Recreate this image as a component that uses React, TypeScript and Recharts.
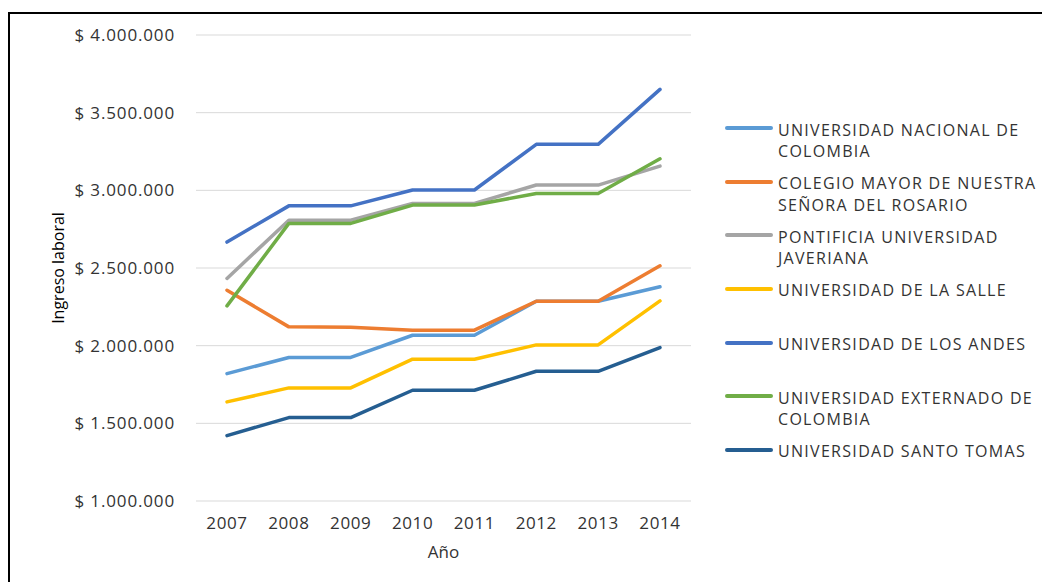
import React from 'react';
import { LineChart, Line, XAxis, YAxis, CartesianGrid, Legend } from 'recharts';

const years = ['2007', '2008', '2009', '2010', '2011', '2012', '2013', '2014'];

const nacional = [1820000, 1924000, 1924000, 2067000, 2067000, 2286000, 2286000, 2379000];
const rosario = [2357000, 2121000, 2119000, 2100000, 2100000, 2286000, 2286000, 2514000];
const javeriana = [2433000, 2808000, 2808000, 2916000, 2916000, 3034000, 3034000, 3156000];
const laSalle = [1638000, 1728000, 1728000, 1913000, 1913000, 2005000, 2005000, 2288000];
const andes = [2667000, 2900000, 2900000, 3002000, 3002000, 3296000, 3296000, 3650000];
const externado = [2256000, 2787000, 2787000, 2905000, 2905000, 2980000, 2980000, 3203000];
const santoTomas = [1421000, 1537000, 1537000, 1713000, 1713000, 1835000, 1835000, 1988000];

const yTicks = [1000000, 1500000, 2000000, 2500000, 3000000, 3500000, 4000000];

const series = [
  { key: 'nacional', name: 'UNIVERSIDAD NACIONAL DE\nCOLOMBIA', values: nacional, color: '#5B9BD5' },
  { key: 'rosario', name: 'COLEGIO MAYOR DE NUESTRA\nSEÑORA DEL ROSARIO', values: rosario, color: '#ED7D31' },
  { key: 'javeriana', name: 'PONTIFICIA UNIVERSIDAD\nJAVERIANA', values: javeriana, color: '#A5A5A5' },
  { key: 'laSalle', name: 'UNIVERSIDAD DE LA SALLE', values: laSalle, color: '#FFC000' },
  { key: 'andes', name: 'UNIVERSIDAD DE LOS ANDES', values: andes, color: '#4472C4' },
  { key: 'externado', name: 'UNIVERSIDAD EXTERNADO DE\nCOLOMBIA', values: externado, color: '#70AD47' },
  { key: 'santoTomas', name: 'UNIVERSIDAD SANTO TOMAS', values: santoTomas, color: '#255E91' },
];

const data = years.map((y, i) => {
  const row: Record<string, any> = { year: y };
  series.forEach((s) => {
    row[s.key] = s.values[i];
  });
  return row;
});

const fmt = (v: number) => '$ ' + String(v).replace(/\B(?=(\d{3})+(?!\d))/g, '.');

const FONT = '"Open Sans", "Noto Sans", sans-serif';
const TEXT = '#333333';

const LegendContent = () => (
  <div style={{ fontFamily: FONT, fontSize: 16, color: TEXT, letterSpacing: 1.3 }}>
    {series.map((s) => (
      <div key={s.key} style={{ height: 53.67, display: 'flex', alignItems: 'flex-start' }}>
        <div
          style={{
            width: 48,
            height: 4,
            borderRadius: 2,
            background: s.color,
            marginTop: 6.5,
            marginRight: 5,
            flex: 'none',
          }}
        />
        <div style={{ whiteSpace: 'pre', lineHeight: '21.5px' }}>{s.name}</div>
      </div>
    ))}
  </div>
);

export default function App() {
  return (
    <div style={{ position: 'relative', width: 1042, height: 574 }}>
      <div
        style={{
          position: 'absolute',
          left: 0,
          top: 4,
          width: 1042,
          height: 570,
          borderTop: '2px solid #000',
          borderLeft: '2px solid #000',
          boxSizing: 'border-box',
        }}
      />
      <div style={{ position: 'absolute', left: 0, top: 0 }}>
        <LineChart
          width={1042}
          height={574}
          data={data}
          margin={{ top: 27, right: 359, bottom: 21, left: 0 }}
        >
          <CartesianGrid vertical={false} stroke="#d9d9d9" strokeWidth={1} />
          <XAxis
            dataKey="year"
            axisLine={false}
            tickLine={false}
            tickSize={0}
            tickMargin={16}
            height={60}
            padding={{ left: 31, right: 31 }}
            tick={{ fill: TEXT, fontSize: 17, fontFamily: FONT, letterSpacing: 0.6 }}
            label={{ value: 'Año', position: 'center', dy: 21, fill: TEXT, fontSize: 17, fontFamily: FONT }}
          />
          <YAxis
            width={188}
            domain={[1000000, 4000000]}
            ticks={yTicks}
            interval={0}
            axisLine={false}
            tickLine={false}
            tickSize={0}
            tickMargin={21}
            tickFormatter={fmt}
            tick={{ fill: TEXT, fontSize: 17, fontFamily: FONT, letterSpacing: 0.85 }}
            label={{
              value: 'Ingreso laboral',
              angle: -90,
              position: 'center',
              dx: -44,
              fill: '#000',
              fontSize: 16,
              fontFamily: FONT,
            }}
          />
          <Legend
            layout="vertical"
            align="center"
            verticalAlign="middle"
            content={<LegendContent />}
            wrapperStyle={{ left: 717, top: 111.5, width: 330, bottom: 'auto' }}
          />
          {series.map((s) => (
            <Line
              key={s.key}
              type="linear"
              dataKey={s.key}
              name={s.name}
              stroke={s.color}
              strokeWidth={3.5}
              strokeLinecap="round"
              strokeLinejoin="round"
              dot={false}
              activeDot={false}
              isAnimationActive={false}
            />
          ))}
        </LineChart>
      </div>
    </div>
  );
}
